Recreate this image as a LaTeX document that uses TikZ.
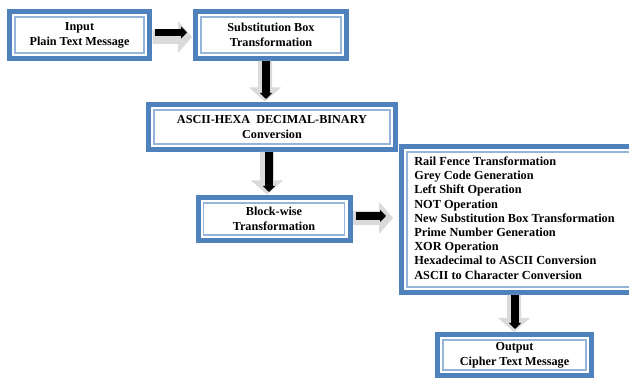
\documentclass[tikz,border=0pt]{standalone}
\usepackage{fontspec}
\setmainfont{Liberation Serif}
\usetikzlibrary{calc,arrows.meta}
\definecolor{boxblue}{RGB}{79,129,189}
\definecolor{innerblue}{RGB}{150,180,218}
\definecolor{shade}{RGB}{218,218,218}
\newcommand\shdown[2]{\fill[shadowfill] let \p1=(#1), \p2=(#2) in
  (\x1-7pt,\y1) -- (\x1-7pt,\y2+14pt) -- (\x1-16pt,\y2+14pt) -- (\x1,\y2) --
  (\x1+16pt,\y2+14pt) -- (\x1+7pt,\y2+14pt) -- (\x1+7pt,\y1) -- cycle;}
\newcommand\shright[2]{\fill[shadowfill] let \p1=(#1), \p2=(#2) in
  (\x1,\y1-7pt) -- (\x2-14pt,\y1-7pt) -- (\x2-14pt,\y1-16pt) -- (\x2,\y1) --
  (\x2-14pt,\y1+16pt) -- (\x2-14pt,\y1+7pt) -- (\x1,\y1+7pt) -- cycle;}
\tikzset{
  box/.style={draw=boxblue, line width=5pt, fill=white, inner sep=0pt, outer sep=0pt,
    font=\bfseries\fontsize{12.2}{15}\selectfont, align=center},
  innerline/.style={draw=innerblue, line width=1.2pt},
  blk/.style={draw=black, line width=7.5pt, -{Triangle[length=6pt,width=12pt]}},
  shadowfill/.style={fill=shade}
}
\begin{document}
\begin{tikzpicture}[x=1pt,y=1pt]
\useasboundingbox (0,0) rectangle (629,379);
\clip (0,0) rectangle (629,379);
\fill[white] (0,0) rectangle (629,379);

\node[box, minimum width=140pt, minimum height=47pt] (n1) at (79.5,344) {Input\\Plain Text Message};
\node[box, minimum width=151pt, minimum height=47pt] (n2) at (271,344) {Substitution Box\\Transformation};
\node[box, minimum width=247pt, minimum height=45pt] (n3) at (272,252) {ASCII-HEXA\ \ DECIMAL-BINARY\\Conversion};
\node[box, minimum width=152pt, minimum height=43pt] (n4) at (274,160) {Block-wise\\Transformation};
\node[box, minimum width=235pt, minimum height=146pt, font=\bfseries\fontsize{12.3}{14.2}\selectfont] (n5) at (519,159.5)
  {\begin{tabular}{@{}l@{\hspace{9pt}}}Rail Fence\ Transformation\\Grey Code Generation\\Left Shift Operation\\NOT Operation\\New Substitution Box Transformation\\Prime Number\ Generation\\XOR Operation\\Hexadecimal\ to ASCII Conversion\\ASCII to Character\ Conversion\end{tabular}};
\node[box, minimum width=154pt, minimum height=41pt] (n6) at (514.5,24) {Output\\Cipher Text Message};

\foreach \n in {n1,n2,n3,n4,n5,n6}
  \draw[innerline] ([xshift=5.5pt,yshift=-5.5pt]\n.north west) rectangle ([xshift=-5.5pt,yshift=5.5pt]\n.south east);

% shadows
\shright{[xshift=3pt,yshift=-2pt]n1.east}{[xshift=-3.5pt,yshift=-2pt]n2.west}
\shdown{[xshift=-6pt,yshift=-2.5pt]n2.south}{[xshift=-7pt,yshift=3pt]n3.north}
\shdown{[xshift=-5pt,yshift=-2.5pt]n3.south}{[xshift=-7pt,yshift=3pt]n4.north}
\shright{[xshift=3pt,yshift=1pt]n4.east}{[xshift=-8.5pt,yshift=1.5pt]n5.west}
\shdown{[xshift=-5pt,yshift=-2.5pt]n5.south}{[xshift=-0.5pt,yshift=2.5pt]n6.north}

% black arrows
\draw[blk] ([xshift=5pt,yshift=2.5pt]n1.east) -- ([xshift=-8.5pt,yshift=2.5pt]n2.west);
\draw[blk] ([xshift=-5pt,yshift=-2.5pt]n2.south) -- ([xshift=-6pt,yshift=5.5pt]n3.north);
\draw[blk] ([xshift=-3pt,yshift=-2.5pt]n3.south) -- ([xshift=-5pt,yshift=5.5pt]n4.north);
\draw[blk] ([xshift=5.5pt,yshift=3pt]n4.east) -- ([xshift=-15.5pt,yshift=3.5pt]n5.west);
\draw[blk] ([xshift=-4pt,yshift=-2.5pt]n5.south) -- ([xshift=0.5pt,yshift=5.5pt]n6.north);
\end{tikzpicture}
\end{document}
